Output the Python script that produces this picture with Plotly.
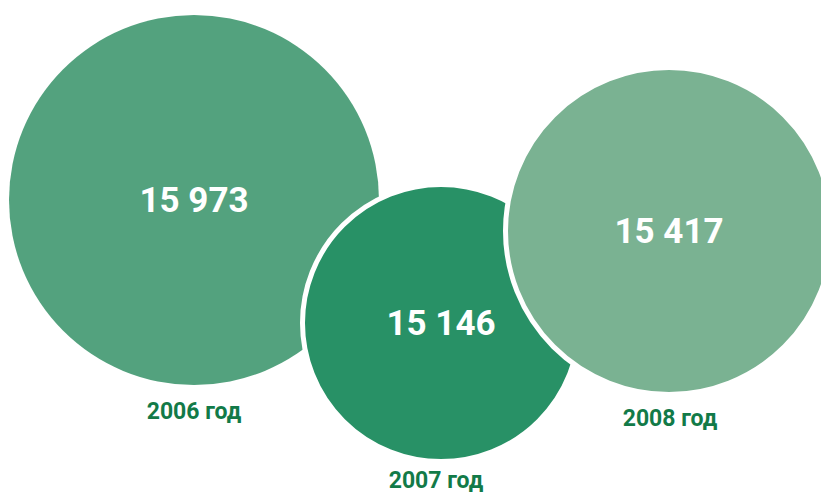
import plotly.graph_objects as go

# Data
years = ["2006 год", "2007 год", "2008 год"]
values = [15973, 15146, 15417]

# Layout (pixel-space design of the bubbles)
cx = [194, 441, 669]
cy = [200, 323, 231]
radius = [185, 138.5, 163.5]
label_x = [194, 436, 670]
label_y = [413, 482, 420]
fills = ["#53A27E", "#289166", "#7AB292"]
label_color = "#127A48"
value_dy = 3

W, H = 821, 493

def fmt(v):
    return f"{v:,}".replace(",", " ")

fig = go.Figure()

shapes = []
for i in range(len(values)):
    shapes.append(dict(
        type="circle", xref="x", yref="y",
        x0=cx[i] - radius[i], x1=cx[i] + radius[i],
        y0=cy[i] - radius[i], y1=cy[i] + radius[i],
        fillcolor=fills[i],
        line=dict(color="white", width=5 if i > 0 else 0),
        layer="below",
    ))

fig.add_trace(go.Scatter(
    x=cx, y=[c + value_dy for c in cy], mode="text",
    text=[fmt(v) for v in values],
    textfont=dict(family="Roboto", size=35, color="white", weight="bold"),
    hoverinfo="skip", showlegend=False,
))
fig.add_trace(go.Scatter(
    x=label_x, y=label_y, mode="text",
    text=years,
    textfont=dict(family="Roboto", size=23, color=label_color, weight="bold"),
    hoverinfo="skip", showlegend=False,
))

fig.update_layout(
    width=W, height=H,
    margin=dict(l=0, r=0, t=0, b=0),
    paper_bgcolor="white", plot_bgcolor="white",
    shapes=shapes,
    xaxis=dict(range=[0, W], visible=False, fixedrange=True),
    yaxis=dict(range=[H, 0], visible=False, fixedrange=True),
)

fig.write_html(
    "out.html",
    config={"displayModeBar": False},
    post_script="document.body.style.margin='0';document.body.style.overflow='hidden';",
)
